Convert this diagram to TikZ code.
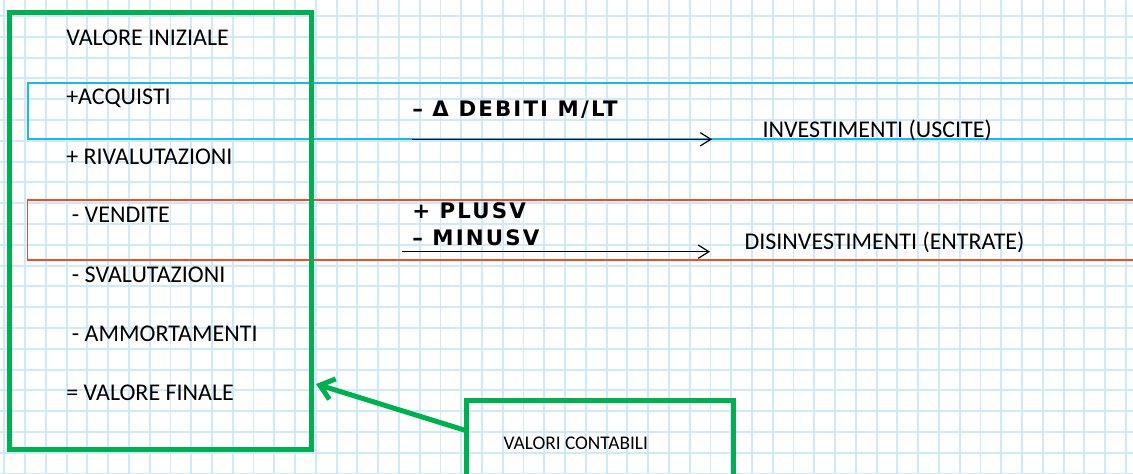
\documentclass[tikz,border=0pt]{standalone}
\usepackage{fontspec}
\usepackage{tikz}
\usepackage{xcolor}
\usetikzlibrary{arrows.meta, positioning}
\setmainfont{Carlito}
\newfontfamily\handfont[LetterSpace=10]{DejaVu Sans}
\definecolor{GridBlue}{RGB}{206,234,250}
\definecolor{BoxGreen}{HTML}{00B050}
\definecolor{InvBlue}{HTML}{22B4EC}
\definecolor{DisRed}{HTML}{F04E2A}

\begin{document}
\begin{tikzpicture}[
    x=0.75pt, y=-0.75pt,
    gridline/.style={draw=GridBlue, line width=1.4pt},
    voce/.style={anchor=base west, inner sep=0pt, font=\fontsize{18}{21}\selectfont},
    flussi/.style={voce},
    hand/.style={anchor=west, inner sep=0pt, font=\handfont\bfseries\fontsize{16}{18}\selectfont},
    greenbox/.style={draw=BoxGreen, line width=3.75pt, rectangle},
    flow/.style={-{Straight Barb[length=8pt,width=10pt]}, line width=0.9pt, black},
    garrow/.style={-{Straight Barb[length=10pt,width=16pt]}, line width=3.75pt, draw=BoxGreen, line cap=round}
]
\useasboundingbox (0,0) rectangle (1133,474);
\clip (0,0) rectangle (1133,474);
\fill[white] (0,0) rectangle (1133,474);

% Squared paper
\foreach \i in {0,...,54} {
    \draw[gridline] (4.3+\i*20.77,0) -- (4.3+\i*20.77,474);
}
\foreach \j in {0,...,22} {
    \draw[gridline] (0,16+\j*20.8) -- (1133,16+\j*20.8);
}

% Bands: investimenti / disinvestimenti
\draw[InvBlue, line width=1.3pt] (1140,82.7) -- (27.7,82.7) -- (27.7,139.3) -- (1140,139.3);
\draw[DisRed, line width=1.1pt] (1140,200) -- (27.7,200) -- (27.7,260) -- (1140,260);

% Left column: movements of the asset value
\foreach \nm/\xx/\yy/\txt in {vi/66/45.7/VALORE INIZIALE, acq/66/105/+ACQUISTI,
    riv/66/164.3/+ RIVALUTAZIONI, ven/71.7/222.7/- VENDITE,
    sva/71.7/282.3/- SVALUTAZIONI, amm/71.7/341.7/- AMMORTAMENTI,
    vf/66/401/= VALORE FINALE} {
    \node[voce] (\nm) at (\xx,\yy) {\txt};
}

% Green frame round the list
\node[greenbox, minimum width=226.5pt, minimum height=327.75pt] (conti) at (160.5,231) {};

% Handwritten notes
\node[hand] (debiti) at (412,110) {– Δ DEBITI M/LT};
\node[hand] (plusv) at (412,211) {+ PLUSV};
\node[hand] (minusv) at (412,238) {– MINUSV};

% Cash flow arrows
\coordinate (invtip) at (712,139.3);
\coordinate (distip) at (710,251.7);
\draw[flow] (debiti.west |- invtip) -- (invtip);
\draw[flow] ([xshift=-7.5pt]minusv.west |- distip) -- (distip);

\node[flussi] (inv) at (762.3,137.7) {INVESTIMENTI (USCITE)};
\node[flussi] (dis) at (744.3,249.3) {DISINVESTIMENTI (ENTRATE)};

% Valori contabili
\node[greenbox, minimum width=200pt, minimum height=90pt] (vcbox) at (600,460) {};
\node[voce, font=\fontsize{14.5}{17}\selectfont] (vc) at (503.3,449.3) {VALORI CONTABILI};
\coordinate (vftip) at (316,384);
\draw[garrow] ([yshift=22.5pt]vcbox.west) -- (vftip);
\end{tikzpicture}
\end{document}
